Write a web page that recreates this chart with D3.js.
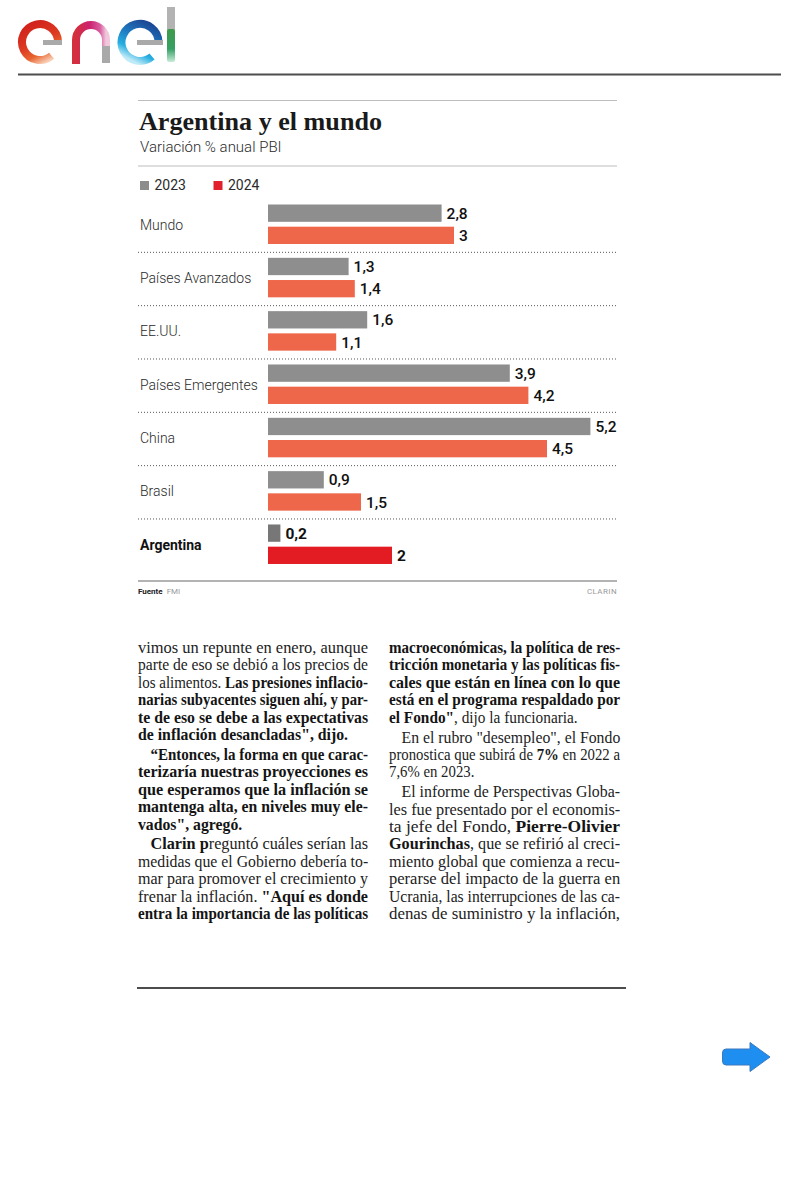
<!DOCTYPE html>
<html><head><meta charset="utf-8">
<script src="https://cdn.jsdelivr.net/npm/d3@7"></script>
<style>html,body{margin:0;padding:0;background:#fff;} svg{display:block;}</style>
</head><body>
<svg id="page" width="800" height="1200"></svg>
<script>
// ---------------- DATA ----------------
const categories = ["Mundo", "Países Avanzados", "EE.UU.", "Países Emergentes", "China", "Brasil", "Argentina"];
const seriesNames = ["2023", "2024"];
const values2023 = [2.8, 1.3, 1.6, 3.9, 5.2, 0.9, 0.2];
const values2024 = [3, 1.4, 1.1, 4.2, 4.5, 1.5, 2];
const highlight = "Argentina";
const chartTitle = "Argentina y el mundo";
const chartSubtitle = "Variación % anual PBI";
const sourceLabel = "Fuente";
const sourceName = "FMI";
const creditLabel = "CLARIN";

// body text: s = segments [text, bold], j = justified line, p = paragraph start
const leftColumn = [
  {s: [["vimos un repunte en enero, aunque", 0]], j: 1},
  {s: [["parte de eso se debió a los precios de", 0]], j: 1},
  {s: [["los alimentos. ", 0], ["Las presiones inflacio-", 1]], j: 1},
  {s: [["narias subyacentes siguen ahí, y par-", 1]], j: 1},
  {s: [["te de eso se debe a las expectativas", 1]], j: 1},
  {s: [["de inflación desancladas\", dijo.", 1]], j: 0},
  {s: [["“Entonces, la forma en que carac-", 1]], j: 1, p: 1},
  {s: [["terizaría nuestras proyecciones es", 1]], j: 1},
  {s: [["que esperamos que la inflación se", 1]], j: 1},
  {s: [["mantenga alta, en niveles muy ele-", 1]], j: 1},
  {s: [["vados\", agregó.", 1]], j: 0},
  {s: [["Clarin p", 1], ["reguntó cuáles serían las", 0]], j: 1, p: 1},
  {s: [["medidas que el Gobierno debería to-", 0]], j: 1},
  {s: [["mar para promover el crecimiento y", 0]], j: 1},
  {s: [["frenar la inflación. ", 0], ["\"Aquí es donde", 1]], j: 1},
  {s: [["entra la importancia de las políticas", 1]], j: 1}
];
const rightColumn = [
  {s: [["macroeconómicas, la política de res-", 1]], j: 1},
  {s: [["tricción monetaria y las políticas fis-", 1]], j: 1},
  {s: [["cales que están en línea con lo que", 1]], j: 1},
  {s: [["está en el programa respaldado por", 1]], j: 1},
  {s: [["el Fondo\"", 1], [", dijo la funcionaria.", 0]], j: 0},
  {s: [["En el rubro \"desempleo\", el Fondo", 0]], j: 1, p: 1},
  {s: [["pronostica que subirá de ", 0], ["7%", 1], [" en 2022 a", 0]], j: 1},
  {s: [["7,6% en 2023.", 0]], j: 0},
  {s: [["El informe de Perspectivas Globa-", 0]], j: 1, p: 1},
  {s: [["les fue presentado por el economis-", 0]], j: 1},
  {s: [["ta jefe del Fondo, ", 0], ["Pierre-Olivier", 1]], j: 1},
  {s: [["Gourinchas", 1], [", que se refirió al creci-", 0]], j: 1},
  {s: [["miento global que comienza a recu-", 0]], j: 1},
  {s: [["perarse del impacto de la guerra en", 0]], j: 1},
  {s: [["Ucrania, las interrupciones de las ca-", 0]], j: 1},
  {s: [["denas de suministro y la inflación,", 0]], j: 1}
];

// ---------------- PAGE ----------------
const svg = d3.select("#page");
svg.append("rect").attr("width", 800).attr("height", 1200).attr("fill", "#fff");
const defs = svg.append("defs");
function grad(id, x1, y1, x2, y2, stops) {
  const g = defs.append("linearGradient").attr("id", id)
    .attr("x1", x1).attr("y1", y1).attr("x2", x2).attr("y2", y2);
  stops.forEach(([o, c]) => g.append("stop").attr("offset", o).attr("stop-color", c));
}
grad("gE1", 0.3, 0, 0.8, 1, [[0, "#d2231c"], [0.45, "#dc3a22"], [0.75, "#e9652f"], [1, "#f8d0b8"]]);
grad("gN", 0, 0, 1, 0, [[0, "#d42f3c"], [0.45, "#cc2270"], [0.8, "#d85c9e"], [1, "#f0c8dc"]]);
grad("gE2", 0.8, 0, 0.3, 1, [[0, "#1c4895"], [0.4, "#1f78c0"], [0.75, "#27aee0"], [1, "#bfeaf7"]]);
grad("gL", 0, 0, 0, 1, [[0, "#3e9a4a"], [0.6, "#36a064"], [1, "#c8ecd8"]]);

// enel logo
const logo = svg.append("g");
logo.append("path").attr("d", "M58 42 A18 18 0 1 0 51.6 55.8")
  .attr("fill", "none").attr("stroke", "url(#gE1)").attr("stroke-width", 8);
logo.append("rect").attr("x", 43).attr("y", 40).attr("width", 19).attr("height", 5).attr("fill", "#a9a9a9");
logo.append("path").attr("d", "M76 64 L76 40 A15 15 0 0 1 106 40 L106 47")
  .attr("fill", "none").attr("stroke", "url(#gN)").attr("stroke-width", 8);
logo.append("rect").attr("x", 102).attr("y", 46).attr("width", 8).attr("height", 17).attr("fill", "#a9a9a9");
logo.append("path").attr("d", "M158.5 42 A18.5 18.5 0 1 0 152 56.5")
  .attr("fill", "none").attr("stroke", "url(#gE2)").attr("stroke-width", 8);
logo.append("rect").attr("x", 137).attr("y", 40).attr("width", 26).attr("height", 5).attr("fill", "#a9a9a9");
logo.append("rect").attr("x", 167).attr("y", 7).attr("width", 8).attr("height", 23).attr("fill", "#b3b3b3");
logo.append("rect").attr("x", 167).attr("y", 29).attr("width", 8).attr("height", 33).attr("rx", 2).attr("fill", "url(#gL)");
svg.append("line").attr("x1", 18).attr("x2", 781).attr("y1", 74.5).attr("y2", 74.5)
  .attr("stroke", "#4d4d4d").attr("stroke-width", 2);

// ---------------- CHART ----------------
const SANS = "Roboto, 'Noto Sans', sans-serif";
const chart = svg.append("g");
chart.append("line").attr("x1", 138).attr("x2", 617).attr("y1", 100.5).attr("y2", 100.5).attr("stroke", "#bdbdbd").attr("stroke-width", 1.2);
chart.append("text").attr("x", 139).attr("y", 129.5)
  .attr("font-family", "'Liberation Serif', 'DejaVu Serif', serif").attr("font-weight", 700)
  .attr("font-size", 24.5).attr("fill", "#1a1a1a")
  .attr("textLength", 243).attr("lengthAdjust", "spacingAndGlyphs").text(chartTitle);
chart.append("text").attr("x", 140).attr("y", 152).attr("font-family", SANS).attr("font-weight", 300)
  .attr("font-size", 15).attr("fill", "#2b2b2b").text(chartSubtitle);
chart.append("line").attr("x1", 138).attr("x2", 617).attr("y1", 166).attr("y2", 166).attr("stroke", "#bdbdbd").attr("stroke-width", 1.2);

const legendColor = d3.scaleOrdinal().domain(seriesNames).range(["#8c8c8c", "#e2202b"]);
const legendX = d3.scalePoint().domain(seriesNames).range([140, 213.5]);
const lg = chart.selectAll("g.lg").data(seriesNames).join("g").attr("transform", d => `translate(${legendX(d)},181)`);
lg.append("rect").attr("width", 9).attr("height", 9).attr("fill", d => legendColor(d));
lg.append("text").attr("x", 14.5).attr("y", 9).attr("font-family", SANS).attr("font-size", 14)
  .attr("fill", "#2b2b2b").text(d => d);

const x = d3.scaleLinear().domain([0, 5.2]).range([268, 590.4]);
const y0 = d3.scaleBand().domain(categories).range([199, 572.3]);
const y1 = d3.scaleBand().domain(seriesNames).range([5.5, 45]).paddingInner(0.22);
const colors = {
  "2023": d => d === highlight ? "#777777" : "#8e8e8e",
  "2024": d => d === highlight ? "#e31b23" : "#ef674b"
};
const rows = categories.map((c, i) => ({cat: c, vals: [values2023[i], values2024[i]]}));

chart.selectAll("line.sep").data(categories.slice(0, -1)).join("line")
  .attr("x1", 138).attr("x2", 616)
  .attr("y1", d => y0(d) + y0.step()).attr("y2", d => y0(d) + y0.step())
  .attr("stroke", "#555").attr("stroke-width", 1).attr("stroke-dasharray", "1,2");

const grp = chart.selectAll("g.row").data(rows).join("g").attr("transform", d => `translate(0,${y0(d.cat)})`);
grp.append("text").attr("x", 140).attr("y", y0.bandwidth() / 2 - 1).attr("dy", "0.35em")
  .attr("font-family", SANS).attr("font-size", 14)
  .attr("font-weight", d => d.cat === highlight ? 700 : 300)
  .attr("fill", d => d.cat === highlight ? "#111" : "#2a2a2a").text(d => d.cat);
const bars = grp.selectAll("g.b").data(d => seriesNames.map((s, k) => ({cat: d.cat, s, v: d.vals[k]}))).join("g");
bars.append("rect").attr("x", x(0)).attr("y", d => y1(d.s))
  .attr("width", d => x(d.v) - x(0)).attr("height", y1.bandwidth())
  .attr("fill", d => colors[d.s](d.cat));
bars.append("text").attr("x", d => x(d.v) + 5).attr("y", d => y1(d.s) + y1.bandwidth() / 2).attr("dy", "0.36em")
  .attr("font-family", SANS).attr("font-size", 15.5)
  .attr("font-weight", d => d.cat === highlight ? 700 : 500).attr("fill", "#111")
  .text(d => String(d.v).replace(".", ","));

chart.append("line").attr("x1", 138).attr("x2", 617).attr("y1", 581).attr("y2", 581).attr("stroke", "#9a9a9a").attr("stroke-width", 1.5);
const ft = chart.append("text").attr("x", 138).attr("y", 593.5).attr("font-family", SANS).attr("font-size", 8);
ft.append("tspan").attr("font-weight", 700).attr("fill", "#222").text(sourceLabel);
ft.append("tspan").attr("dx", 4).attr("fill", "#999").text(sourceName);
chart.append("text").attr("x", 617).attr("y", 593.5).attr("text-anchor", "end").attr("font-family", SANS)
  .attr("font-size", 8).attr("letter-spacing", 0.4).attr("fill", "#9a9a9a").text(creditLabel);

// ---------------- BODY TEXT ----------------
const SERIF = "'Liberation Serif', 'DejaVu Serif', serif";
const FS = 16.8;
function measure(str, bold) {
  const t = svg.append("text").style("white-space", "pre").attr("font-family", SERIF)
    .attr("font-size", FS).attr("font-weight", bold ? 700 : 400).text(str);
  const w = t.node().getComputedTextLength(); t.remove(); return w;
}
const SPACE = measure("a a", 0) - measure("aa", 0);

function drawColumn(lines, x0, width) {
  const step = 17.4, yStart = 653, yEnd = 919;
  const nP = lines.filter((l, i) => i > 0 && l.p).length;
  const extra = nP ? (yEnd - yStart - (lines.length - 1) * step) / nP : 0;
  let yy = yStart, ratio = 0.95;
  lines.forEach((line, i) => {
    if (i > 0) yy += step + (line.p ? extra : 0);
    const ind = line.p ? 12.5 : 0;
    const segs = line.s.map(([txt, b]) => {
      const lead = /^\s/.test(txt) ? SPACE : 0, trail = /\s$/.test(txt) ? SPACE : 0;
      const clean = txt.trim();
      return {clean, b, lead, trail, w: measure(clean, b)};
    });
    const total = d3.sum(segs, d => d.w + d.lead + d.trail);
    let scale;
    if (line.j) { scale = (width - ind) / total; ratio = scale; }
    else scale = Math.min(ratio, 1);
    let cx = x0 + ind;
    segs.forEach(sg => {
      cx += sg.lead * scale;
      svg.append("text")
        .attr("transform", `translate(${cx},${yy}) scale(${scale},1)`)
        .attr("font-family", SERIF).attr("font-size", FS)
        .attr("font-weight", sg.b ? 700 : 400).attr("fill", sg.b ? "#141414" : "#222")
        .text(sg.clean);
      cx += (sg.w + sg.trail) * scale;
    });
  });
}
drawColumn(leftColumn, 138, 230);
drawColumn(rightColumn, 389, 231);

svg.append("line").attr("x1", 137).attr("x2", 626).attr("y1", 988).attr("y2", 988)
  .attr("stroke", "#111").attr("stroke-width", 1.5);

// arrow
svg.append("path")
  .attr("d", "M726 1049 L750 1049 L750 1042.5 L770 1057 L750 1071.5 L750 1065 L726 1065 Q722.5 1065 722.5 1061 L722.5 1053 Q722.5 1049 726 1049 Z")
  .attr("fill", "#1e8ff0").attr("stroke", "#3a78c0").attr("stroke-width", 1);
</script>
</body></html>
